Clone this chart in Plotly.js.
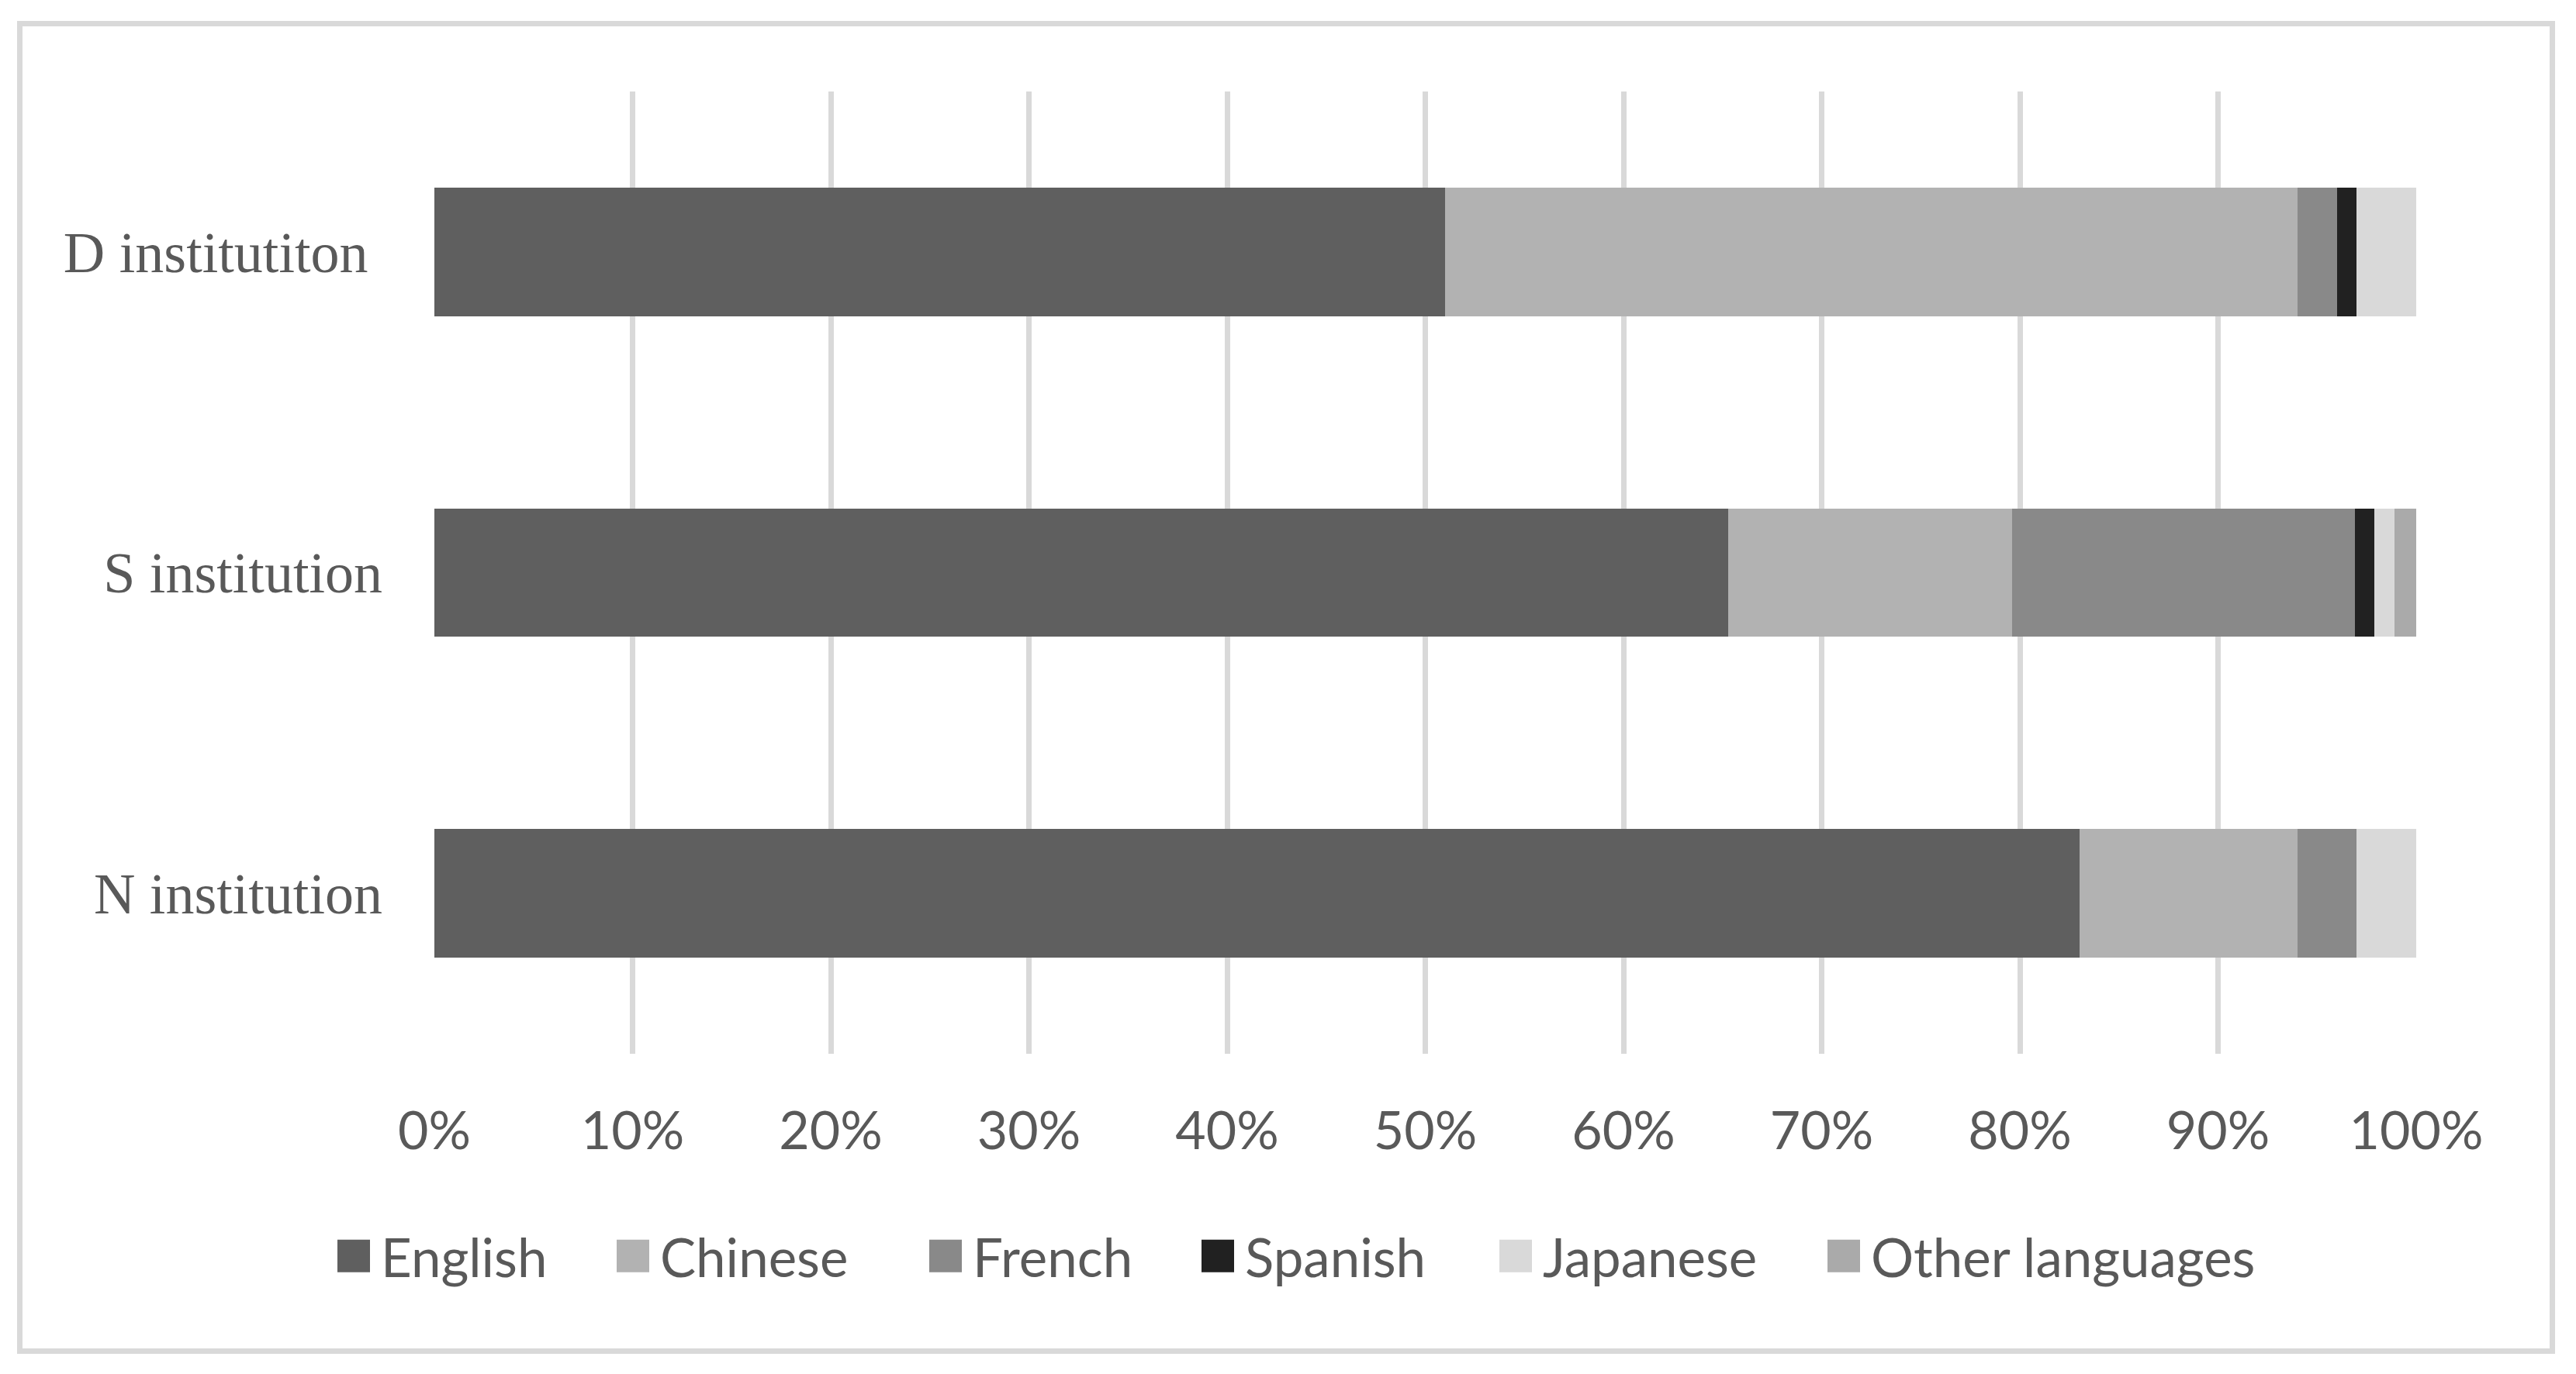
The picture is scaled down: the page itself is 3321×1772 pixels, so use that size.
<!DOCTYPE html>
<html>
<head>
<meta charset="utf-8">
<script src="https://cdn.plot.ly/plotly-3.0.1.min.js"></script>
<style>
  html, body { margin: 0; padding: 0; background: #fff; }
  #chart { width: 3321px; height: 1772px; }
</style>
</head>
<body>
<div id="chart"></div>
<script>
// data (percent of each institution)
var institutions = ['D institutiton\u00a0', 'S institution', 'N institution'];
var english  = [51, 65.3, 83];
var chinese  = [43, 14.3, 11];
var french   = [2, 17.3, 3];
var spanish  = [1, 1, 0];
var japanese = [3, 1, 3];
var other    = [0, 1.1, 0];
var languages = ['English', 'Chinese', 'French', 'Spanish', 'Japanese', 'Other languages'];
var tickVals = [0, 10, 20, 30, 40, 50, 60, 70, 80, 90, 100];

var W = 3321, H = 1772;
var m = { l: 560, r: 206, t: 118, b: 413 };
var plotW = W - m.l - m.r, plotH = H - m.t - m.b;
function px(x) { return (x - m.l) / plotW; }
function py(y) { return (H - m.b - y) / plotH; }

var colors = ['#5f5f5f', '#b2b2b2', '#898989', '#212121', '#d9d9d9', '#aaaaaa'];
var series = [english, chinese, french, spanish, japanese, other];
// left edge of each legend marker, in page pixels
var legendLeft = [434, 794, 1197, 1548, 1932, 2355];
var textColor = '#595959';
var tickFont = { family: 'Lato, "Open Sans", sans-serif', size: 68, color: textColor };
var legendFont = { family: 'Lato, "Open Sans", sans-serif', size: 69, color: textColor };

var data = series.map(function (vals, i) {
  return {
    type: 'bar',
    orientation: 'h',
    name: languages[i],
    x: vals,
    y: institutions,
    width: 0.4,
    marker: { color: colors[i], line: { width: 0 } },
    legend: i === 0 ? 'legend' : 'legend' + (i + 1),
    hoverinfo: 'x+y+name'
  };
});

var layout = {
  width: W,
  height: H,
  margin: m,
  paper_bgcolor: '#ffffff',
  plot_bgcolor: '#ffffff',
  barmode: 'stack',
  showlegend: true,
  xaxis: {
    range: [0, 100],
    tickvals: tickVals,
    ticktext: tickVals.map(function (v) { return v + '%'; }),
    showgrid: true,
    gridcolor: '#d9d9d9',
    gridwidth: 7,
    zeroline: false,
    showline: false,
    ticks: '',
    ticklabelstandoff: 54,
    tickfont: tickFont,
    fixedrange: true
  },
  yaxis: {
    type: 'category',
    autorange: 'reversed',
    showgrid: false,
    zeroline: false,
    showline: false,
    ticks: '',
    ticklabelstandoff: 66,
    tickfont: { family: '"Liberation Serif", "Times New Roman", serif', size: 74, color: textColor },
    fixedrange: true
  },
  shapes: [{
    type: 'rect',
    xref: 'paper', yref: 'paper',
    x0: px(25.5), x1: px(3290.5),
    y0: py(1742.5), y1: py(30.5),
    line: { color: '#d9d9d9', width: 7 },
    fillcolor: 'rgba(0,0,0,0)',
    layer: 'below'
  }]
};

legendLeft.forEach(function (left, i) {
  layout[i === 0 ? 'legend' : 'legend' + (i + 1)] = {
    xref: 'container', yref: 'container',
    x: (left - 13) / W,
    y: 1 - 1620 / H,
    xanchor: 'left', yanchor: 'middle',
    orientation: 'h',
    itemwidth: 60,
    font: legendFont,
    bgcolor: 'rgba(0,0,0,0)',
    borderwidth: 0,
    itemclick: false,
    itemdoubleclick: false
  };
});

// enlarge the legend swatches to match the reference
function bigSwatches() {
  document.querySelectorAll('#chart .legendpoints path').forEach(function (p) {
    p.setAttribute('d', 'M21,21H-21V-21H21Z');
    p.style.strokeWidth = '0px';
  });
}

Plotly.newPlot('chart', data, layout, { staticPlot: true, displayModeBar: false }).then(function (gd) {
  bigSwatches();
  gd.on('plotly_afterplot', bigSwatches);
  setTimeout(bigSwatches, 50);
  setTimeout(bigSwatches, 400);
});
</script>
</body>
</html>
